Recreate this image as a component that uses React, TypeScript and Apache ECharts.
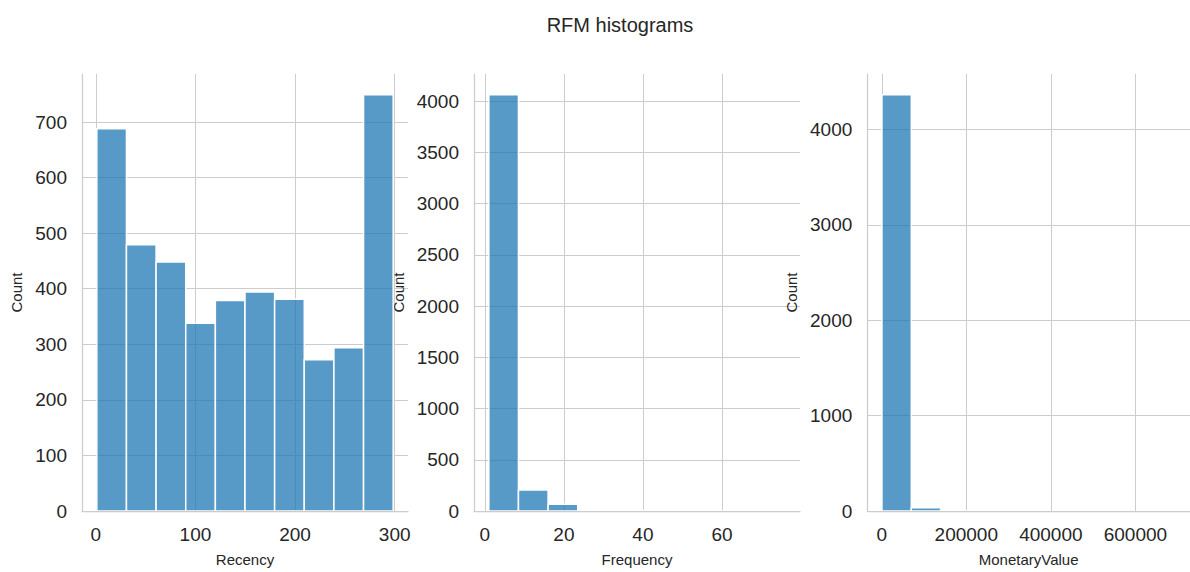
import React, { useEffect, useRef } from "react";
import * as echarts from "echarts";

const chartTitle = "RFM histograms";
const panelNames = ["Recency", "Frequency", "MonetaryValue"];
const countLabel = "Count";

// data range (min, max) of each variable and histogram counts (10 bins)
const recencyRange = [1, 298.5];
const recencyCounts = [688, 479, 448, 338, 379, 394, 381, 272, 294, 749];
const frequencyRange = [1, 76];
const frequencyCounts = [4062, 206, 67, 14, 6, 4, 3, 2, 1, 1];
const monetaryRange = [500, 694500];
const monetaryCounts = [4363, 33, 3, 1, 0, 0, 0, 0, 0, 1];

// tick labels
const recencyTicks = [0, 100, 200, 300];
const frequencyTicks = [0, 20, 40, 60];
const monetaryTicks = [0, 200000, 400000, 600000];
const recencyCountTicks = [0, 100, 200, 300, 400, 500, 600, 700];
const frequencyCountTicks = [0, 500, 1000, 1500, 2000, 2500, 3000, 3500, 4000];
const monetaryCountTicks = [0, 1000, 2000, 3000, 4000];

const FONT = "'Liberation Sans', Arial, sans-serif";
const TEXT = "#262626";
const GRIDC = "#cccccc";

function bins(range: number[], counts: number[]) {
  const w = (range[1] - range[0]) / counts.length;
  return counts.map((c, i) => [range[0] + i * w, range[0] + (i + 1) * w, c]);
}

export default function App() {
  const ref = useRef<HTMLDivElement>(null);
  useEffect(() => {
    if (!ref.current) return;
    const chart = echarts.init(ref.current, undefined, { renderer: "svg" });
    const panels = [
      { range: recencyRange, counts: recencyCounts, xt: recencyTicks, yt: recencyCountTicks, left: 82, gap: 58 },
      { range: frequencyRange, counts: frequencyCounts, xt: frequencyTicks, yt: frequencyCountTicks, left: 474, gap: 68 },
      { range: monetaryRange, counts: monetaryCounts, xt: monetaryTicks, yt: monetaryCountTicks, left: 867.3, gap: 68 },
    ];
    const grids: any[] = [];
    const xAxes: any[] = [];
    const yAxes: any[] = [];
    const series: any[] = [];
    const plain = (v: number) => String(v);
    panels.forEach((p, i) => {
      const r = p.range[1] - p.range[0];
      const maxC = Math.max(...p.counts);
      const xmin = p.range[0] - 0.05 * r;
      const xmax = p.range[1] + 0.05 * r;
      grids.push({ left: p.left, top: 74, width: 326, height: 443 });
      xAxes.push({
        type: "value",
        gridIndex: i,
        position: "bottom",
        min: xmin,
        max: xmax,
        name: panelNames[i],
        nameLocation: "middle",
        nameGap: 41,
        nameTextStyle: { fontSize: 15, color: TEXT, fontFamily: FONT },
        axisLine: { show: false, onZero: false },
        axisTick: { show: false, customValues: p.xt },
        axisLabel: { customValues: p.xt, formatter: plain, fontSize: 19, color: TEXT, fontFamily: FONT, margin: 14 },
        splitLine: { show: true, lineStyle: { color: GRIDC, width: 1 } },
      });
      yAxes.push({
        type: "value",
        gridIndex: i,
        min: 0,
        max: maxC * 1.05,
        name: countLabel,
        nameLocation: "middle",
        nameGap: p.gap,
        nameTextStyle: { fontSize: 15, color: TEXT, fontFamily: FONT },
        axisLine: { show: true, onZero: false, lineStyle: { color: GRIDC, width: 1.25 } },
        axisTick: { show: false, customValues: p.yt },
        axisLabel: { customValues: p.yt, formatter: plain, fontSize: 19, color: TEXT, fontFamily: FONT, margin: 15 },
        splitLine: { show: true, lineStyle: { color: GRIDC, width: 1 } },
      });
      series.push({
        type: "custom",
        xAxisIndex: i,
        yAxisIndex: i,
        z: 2,
        data: bins(p.range, p.counts),
        encode: { x: [0, 1], y: 2 },
        renderItem: (params: any, api: any) => {
          const x0 = api.value(0);
          const x1 = api.value(1);
          const c = api.value(2);
          if (!c) return { type: "group", children: [] };
          const a = api.coord([x0, c]);
          const b = api.coord([x1, 0]);
          return {
            type: "rect",
            shape: { x: a[0], y: a[1], width: b[0] - a[0], height: b[1] - a[1] },
            style: { fill: "rgba(31,119,180,0.75)", stroke: "#ffffff", lineWidth: 1.5 },
          };
        },
      });
    });
    // bottom spines drawn above the bars (as in matplotlib)
    panels.forEach((p, i) => {
      const r = p.range[1] - p.range[0];
      xAxes.push({
        type: "value",
        gridIndex: i,
        position: "bottom",
        offset: 0,
        z: 5,
        min: p.range[0] - 0.05 * r,
        max: p.range[1] + 0.05 * r,
        axisLine: { show: true, onZero: false, lineStyle: { color: GRIDC, width: 1.25 } },
        axisTick: { show: false },
        axisLabel: { show: false },
        splitLine: { show: false },
      });
    });
    chart.setOption({
      animation: false,
      backgroundColor: "#ffffff",
      grid: grids,
      xAxis: xAxes,
      yAxis: yAxes,
      series,
      graphic: [
        {
          type: "text",
          x: 620,
          y: 25,
          style: {
            text: chartTitle,
            fontSize: 20,
            fontFamily: FONT,
            fill: TEXT,
            textAlign: "center",
            textVerticalAlign: "middle",
          },
        },
      ],
    });
    return () => chart.dispose();
  }, []);
  return <div ref={ref} style={{ position: "absolute", left: 0, top: 0, width: 1190, height: 572 }} />;
}
